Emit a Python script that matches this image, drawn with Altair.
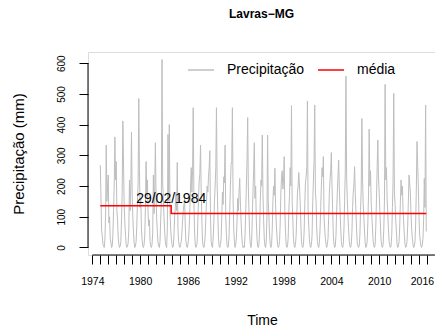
import altair as alt
import pandas as pd

# ---- data ----
years = list(range(1975, 2016))
precip_rows = [
    [268, 170, 55, 40, 10, 5, 0, 25, 110, 333, 150, 200],   # 1975
    [236, 80, 100, 30, 15, 0, 5, 40, 120, 200, 360, 220],   # 1976
    [280, 120, 90, 35, 10, 0, 5, 20, 90, 180, 412, 274],    # 1977
    [140, 80, 40, 10, 0, 5, 15, 60, 220, 120, 200, 375],    # 1978
    [180, 100, 50, 15, 0, 5, 20, 70, 150, 210, 485, 250],   # 1979
    [130, 160, 60, 25, 5, 0, 10, 40, 130, 280, 170, 220],   # 1980
    [110, 70, 90, 20, 5, 0, 10, 50, 236, 110, 190, 341],    # 1981
    [170, 90, 50, 15, 5, 0, 20, 90, 150, 612, 210, 160],    # 1982
    [100, 50, 20, 5, 0, 60, 368, 150, 400, 120, 60, 30],    # 1983
    [10, 0, 5, 40, 100, 130, 180, 120, 277, 60, 20, 5],     # 1984
    [0, 10, 20, 50, 90, 120, 140, 160, 70, 20, 5, 0],       # 1985
    [10, 30, 70, 130, 200, 260, 180, 250, 455, 160, 50, 10],# 1986
    [0, 5, 20, 90, 160, 220, 240, 333, 180, 90, 20, 5],     # 1987
    [0, 10, 40, 100, 150, 200, 180, 230, 260, 315, 100, 20],# 1988
    [5, 0, 30, 80, 150, 200, 260, 455, 210, 120, 30, 5],    # 1989
    [0, 10, 30, 100, 180, 140, 230, 210, 333, 100, 40, 5],  # 1990
    [0, 5, 40, 120, 200, 270, 280, 455, 160, 60, 20, 0],    # 1991
    [10, 30, 90, 160, 120, 180, 225, 150, 90, 40, 10, 0],   # 1992
    [5, 0, 40, 110, 200, 280, 423, 200, 110, 40, 10, 0],    # 1993
    [20, 100, 180, 250, 341, 160, 200, 90, 30, 5, 0, 10],   # 1994
    [60, 150, 220, 200, 366, 180, 90, 30, 5, 0, 20, 100],   # 1995
    [366, 150, 100, 40, 10, 0, 10, 60, 150, 200, 170, 258], # 1996
    [140, 80, 40, 10, 0, 5, 20, 80, 180, 230, 250, 190],    # 1997
    [220, 296, 120, 50, 10, 0, 5, 30, 120, 170, 260, 200],  # 1998
    [462, 150, 90, 30, 5, 0, 10, 40, 110, 180, 200, 244],   # 1999
    [200, 150, 80, 20, 5, 0, 10, 50, 140, 210, 230, 260],   # 2000
    [477, 120, 70, 25, 5, 0, 10, 40, 150, 220, 280, 464],   # 2001
    [180, 150, 60, 20, 5, 0, 15, 60, 130, 200, 260, 230],   # 2002
    [296, 100, 60, 30, 10, 0, 10, 30, 100, 180, 220, 250],  # 2003
    [309, 200, 120, 40, 10, 0, 5, 40, 120, 180, 230, 285],  # 2004
    [200, 130, 70, 20, 5, 0, 10, 60, 150, 250, 558, 230],   # 2005
    [160, 100, 60, 20, 5, 0, 10, 50, 130, 180, 200, 263],   # 2006
    [180, 120, 60, 15, 5, 0, 5, 40, 120, 190, 420, 220],    # 2007
    [140, 100, 50, 15, 0, 5, 20, 80, 170, 385, 200, 250],   # 2008
    [150, 100, 60, 20, 5, 0, 10, 70, 160, 260, 350, 230],   # 2009
    [180, 120, 70, 20, 5, 0, 10, 60, 150, 531, 220, 260],   # 2010
    [160, 110, 60, 20, 5, 0, 5, 40, 130, 220, 502, 180],    # 2011
    [140, 90, 50, 10, 0, 5, 20, 70, 150, 220, 170, 200],    # 2012
    [120, 80, 40, 10, 0, 5, 20, 70, 150, 236, 210, 180],    # 2013
    [110, 60, 30, 10, 0, 5, 20, 80, 190, 345, 270, 200],    # 2014
    [100, 40, 20, 5, 0, 10, 30, 90, 225, 130, 464, 52],     # 2015
]

mean_t = [1975.0, 1983.9, 1983.9, 2015.917]
mean_v = [136, 136, 111, 111]

annot_t = [1983.9]
annot_v = [158]
annot_text = ["29/02/1984"]

x_ticks = list(range(1974, 2018))
y_ticks = [0, 100, 200, 300, 400, 500, 600]

series_names = ["Precipitação", "média"]
series_colors = ["#bebebe", "#ff0000"]

# ---- tables ----
rows = []
for y, vals in zip(years, precip_rows):
    for m, v in enumerate(vals):
        rows.append({"t": y + m / 12.0, "v": v, "s": series_names[0], "i": len(rows)})
precip_df = pd.DataFrame(rows)
mean_df = pd.DataFrame({"t": mean_t, "v": mean_v, "i": list(range(len(mean_t))),
                        "s": series_names[1]})
annot_df = pd.DataFrame({"t": annot_t, "v": annot_v, "label": annot_text})

FONT = "Liberation Sans"
XDOM = [1973.46, 2017.01]
YDOM = [-24.5, 636.5]

xscale = alt.Scale(domain=XDOM, nice=False, zero=False)
yscale = alt.Scale(domain=YDOM, nice=False, zero=False)

xaxis = alt.Axis(values=x_ticks,
                 labelExpr="datum.value % 6 == 0 ? toString(datum.value) : ''",
                 labelOffset={"condition": {"test": "datum.value == 2016", "value": -5},
                              "value": 0},
                 domain=False, grid=False, tickSize=9, tickColor="black",
                 labelPadding=12, labelFontSize=10.5, labelFont=FONT,
                 labelColor="black", labelFlush=False, labelOverlap=False,
                 title="Time", titleX=174, titleY=65, titleBaseline="middle",
                 titleFontSize=14, titleFont=FONT, titleFontWeight="normal",
                 titleColor="black")
yaxis = alt.Axis(values=y_ticks, format="d", domain=False, grid=False,
                 tickSize=9, tickColor="black", labelAngle=270,
                 labelAlign="center", labelBaseline="bottom", labelPadding=13,
                 labelFontSize=10, labelFont=FONT, labelColor="black",
                 labelFlush=False, labelOverlap=False,
                 title="Precipitação (mm)", titleAngle=270, titleX=-70,
                 titleY=101.5, titleAlign="center", titleBaseline="middle",
                 titleFontSize=15, titleFont=FONT, titleFontWeight="normal",
                 titleColor="black")

X = alt.X("t:Q", scale=xscale, axis=xaxis)
Y = alt.Y("v:Q", scale=yscale, axis=yaxis)

color = alt.Color("s:N", scale=alt.Scale(domain=series_names, range=series_colors),
                  legend=alt.Legend(title=None, orient="none", legendX=99, legendY=4,
                                    direction="horizontal", symbolType="stroke",
                                    symbolSize=676, symbolStrokeWidth=1.5,
                                    labelFontSize=14, labelFont=FONT,
                                    labelColor="black", labelOffset=12,
                                    columnPadding=10, padding=0))

precip = alt.Chart(precip_df).mark_line(strokeWidth=1).encode(
    x=X, y=Y, order="i:Q", color=color)

mean_line = alt.Chart(mean_df).mark_line(strokeWidth=1.5).encode(
    x=X, y=Y, order="i:Q", color=color)

annot = alt.Chart(annot_df).mark_text(font=FONT, fontSize=14, color="black",
                                      align="center", baseline="middle").encode(
    x=X, y=Y, text="label:N")

xline_df = pd.DataFrame({"t": [1974], "t2": [2017], "v": [YDOM[0]]})
yline_df = pd.DataFrame({"t": [XDOM[0]], "v": [0], "v2": [600]})
xline = alt.Chart(xline_df).mark_rule(color="black", strokeWidth=1).encode(
    x=X, x2="t2:Q", y=Y)
yline = alt.Chart(yline_df).mark_rule(color="black", strokeWidth=1).encode(
    x=X, y=Y, y2="v2:Q")

chart = alt.layer(precip, mean_line, annot, xline, yline).properties(
    width=347, height=203,
    autosize=alt.AutoSizeParams(type="none"),
    padding={"left": 80, "top": 44, "right": 0, "bottom": 73},
    title=alt.TitleParams("Lavras−MG", fontSize=12, fontWeight="bold", font=FONT,
                          anchor="middle", offset=31, color="black"),
).configure_view(stroke=None).configure(background="white")

chart.save("out.html", embed_options={"renderer": "svg", "actions": False})
